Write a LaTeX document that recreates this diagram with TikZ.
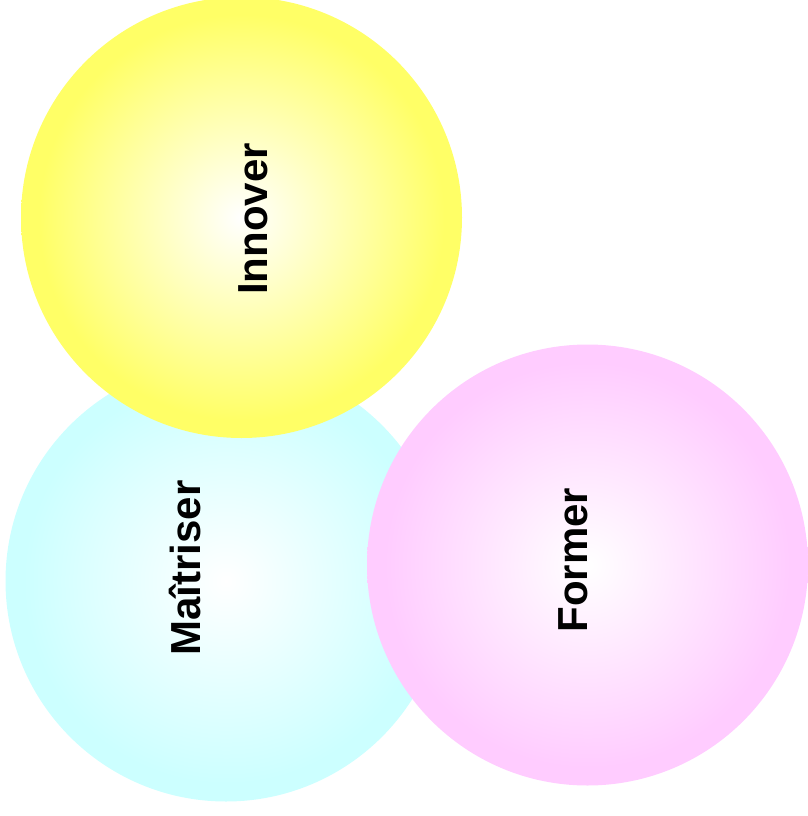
\documentclass[tikz,border=0pt]{standalone}
\usepackage{fontspec}
\setmainfont{Liberation Sans}
\definecolor{innoveryellow}{HTML}{FFFF66}
\definecolor{maitrisecyan}{HTML}{CCFFFF}
\definecolor{formerpink}{HTML}{FFCCFF}
\pgfdeclareradialshading{innoverglow}{\pgfpoint{0bp}{0bp}}{color(0bp)=(white); color(23bp)=(innoveryellow); color(50bp)=(innoveryellow)}
\pgfdeclareradialshading{maitriseglow}{\pgfpoint{0bp}{0bp}}{color(0bp)=(white); color(23bp)=(maitrisecyan); color(50bp)=(maitrisecyan)}
\pgfdeclareradialshading{formerglow}{\pgfpoint{0bp}{0bp}}{color(0bp)=(white); color(23bp)=(formerpink); color(50bp)=(formerpink)}
\tikzset{
  disc/.style={circle,minimum size=441pt,inner sep=0pt},
  word/.style={rotate=90,font=\fontsize{42}{42}\selectfont\bfseries,inner sep=0pt}
}
\begin{document}
\begin{tikzpicture}[x=1pt,y=-1pt]
\useasboundingbox (0,0) rectangle (807,816);
% the three discs
\node[disc,shading=maitriseglow] (maitriser) at (226,581) {};
\node[disc,shading=innoverglow] (innover) at (241.5,217.5) {};
\node[disc,shading=formerglow] (former) at (587.5,565) {};
% their words
\node[word] (innovertext) at (253,219) {Innover};
\node[word] (maitrisertext) at (185,568) {Maîtriser};
\node[word] (formertext) at (573.5,560) {Former};
\end{tikzpicture}
\end{document}
